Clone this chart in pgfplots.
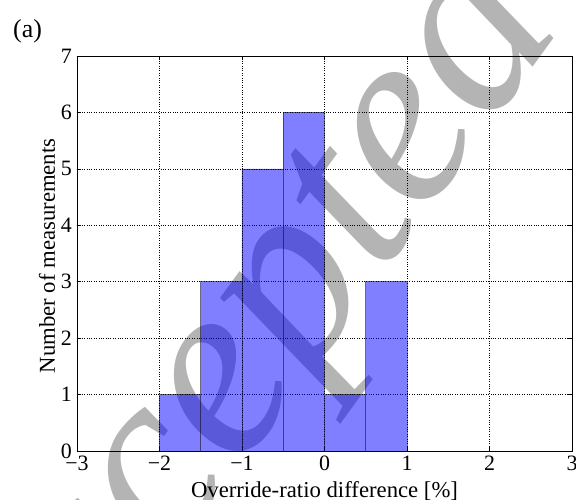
\documentclass[border=0pt]{standalone}
\usepackage{fontspec}
\setmainfont{Liberation Serif}
\usepackage{pgfplots}
\pgfplotsset{compat=1.18}
\definecolor{wmgray}{RGB}{180,180,180}
\definecolor{barblue}{RGB}{0,0,255}
\begin{document}
\begin{tikzpicture}
\useasboundingbox (-77bp,-49bp) rectangle (499bp,451bp);
\begin{scope}
\clip (-77bp,-49bp) rectangle (499bp,451bp);
\node[rotate=54, text=wmgray, inner sep=0pt, font=\fontsize{256}{256}\selectfont\itshape] at (162bp,84bp) {Accepted};
\end{scope}
\node[font=\fontsize{26}{28}\selectfont] at (-49.5bp,420bp) {(a)};
\begin{axis}[
  scale only axis,
  width=495bp, height=395bp,
  xmin=-3, xmax=3, ymin=0, ymax=7,
  xtick={-3,-2,-1,0,1,2,3},
  xticklabels={−3,−2,−1,0,1,2,3},
  ytick={0,1,2,3,4,5,6,7},
  /pgf/number format/assume math mode=true,
  xticklabel style={font=\fontsize{22}{24}\selectfont, anchor=north, inner sep=0pt, yshift=-5bp},
  yticklabel style={font=\fontsize{22}{24}\selectfont, anchor=east, inner sep=0pt, xshift=-5bp},
  every axis x label/.style={at={(axis description cs:0.5,-0.101)},anchor=center,font=\fontsize{22.8}{24}\selectfont},
  every axis y label/.style={at={(axis description cs:-0.0606,0.494)},anchor=center,rotate=90,font=\fontsize{22.8}{24}\selectfont},
  xlabel={Override-ratio difference [\%]},
  ylabel={Number of measurements},
  grid=major,
  major grid style={black, dotted, line width=0.6bp},
  tick align=inside,
  major tick length=4bp,
  tick style={black, line width=0.6bp},
  axis line style={black, line width=0.8bp},
]
\addplot[ybar interval, fill=barblue, fill opacity=0.5, draw=black, draw opacity=0.5, line width=0.6bp]
  coordinates {(-2,1) (-1.5,3) (-1,5) (-0.5,6) (0,1) (0.5,3) (1,3)};
\end{axis}
\end{tikzpicture}
\end{document}
